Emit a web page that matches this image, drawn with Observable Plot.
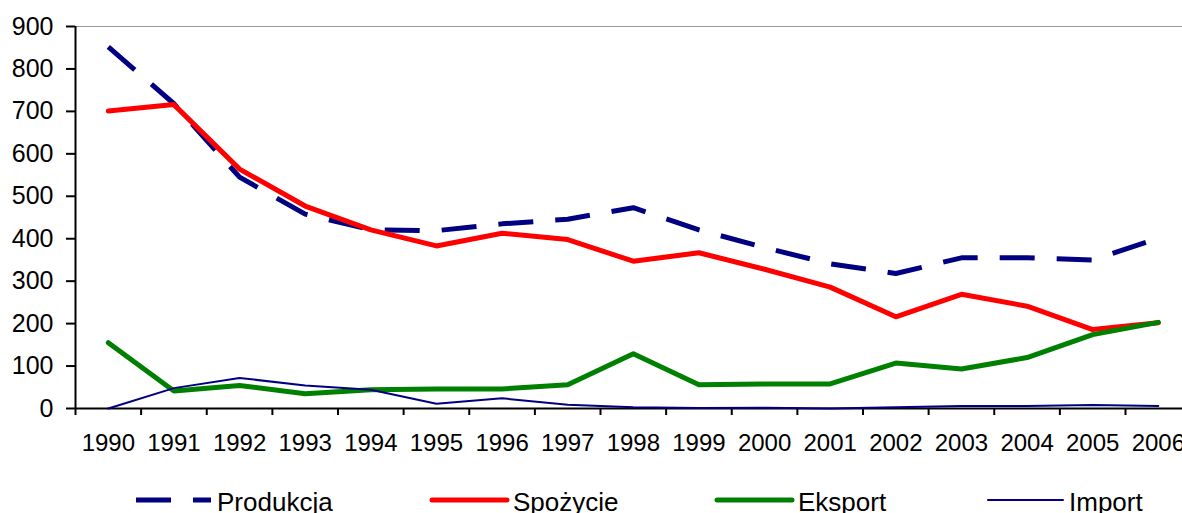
<!DOCTYPE html>
<html>
<head>
<meta charset="utf-8">
<script src="https://cdn.jsdelivr.net/npm/d3@7"></script>
<script src="https://cdn.jsdelivr.net/npm/@observablehq/plot@0.6"></script>
<style>
  html, body { margin: 0; padding: 0; background: #fff; overflow: hidden; }
  #wrap { position: relative; width: 1182px; height: 513px; font-family: "Liberation Sans", Arial, sans-serif; }
  #legend { position: absolute; left: 0; top: 480px; }
</style>
</head>
<body>
<div id="wrap"></div>
<script>
const years = [1990, 1991, 1992, 1993, 1994, 1995, 1996, 1997, 1998, 1999, 2000, 2001, 2002, 2003, 2004, 2005, 2006];
const produkcja = [852, 718, 545, 458, 421, 419, 435, 446, 473, 421, 379, 341, 318, 355, 355, 350, 401];
const spozycie  = [701, 716, 564, 477, 421, 383, 413, 398, 347, 367, 328, 286, 216, 269, 241, 186, 202];
const eksport   = [155, 41, 54, 35, 44, 46, 46, 56, 129, 56, 58, 58, 107, 93, 120, 174, 203];
const importV   = [0, 48, 72, 54, 44, 11, 24, 9, 3, 1, 2, 0, 3, 6, 6, 8, 6];
const seriesNames = ["Produkcja", "Spożycie", "Eksport", "Import"];
const yTicks = [0, 100, 200, 300, 400, 500, 600, 700, 800, 900];

const font = '"Liberation Sans", Arial, sans-serif';
const styles = [
  {stroke: "#000080", strokeWidth: 5, strokeDasharray: "35,22", strokeLinecap: "butt"},
  {stroke: "#ff0000", strokeWidth: 5, strokeLinecap: "round"},
  {stroke: "#008000", strokeWidth: 5, strokeLinecap: "round"},
  {stroke: "#000080", strokeWidth: 2, strokeLinecap: "round"}
];
const values = [produkcja, spozycie, eksport, importV];
const boundaries = d3.range(years.length + 1).map(i => years[0] - 0.5 + i);

const marks = [
  Plot.ruleY([900], {stroke: "#999", strokeWidth: 1}),
  Plot.axisY(yTicks, {tickSize: 9, tickPadding: 13, fontSize: 25, fill: "#000", tickFormat: d => String(d), strokeWidth: 2}),
  Plot.axisX(boundaries, {tickSize: 7, tickFormat: () => "", strokeWidth: 2}),
  Plot.axisX(years, {tickSize: 0, tickPadding: 25, fontSize: 24, tickFormat: d => String(d)}),
  Plot.ruleX([years[0] - 0.5], {y1: 0, y2: 900, stroke: "#000", strokeWidth: 2}),
  Plot.ruleY([0], {stroke: "#000", strokeWidth: 2}),
  ...values.map((arr, k) => Plot.line(years, {
    x: d => d,
    y: (d, i) => arr[i],
    strokeLinejoin: "round",
    ...styles[k]
  }))
];

const chart = Plot.plot({
  width: 1182,
  height: 480,
  marginTop: 26,
  marginBottom: 72,
  marginLeft: 75,
  marginRight: 0,
  style: {fontFamily: font, color: "#000", background: "#fff", overflow: "visible"},
  x: {type: "linear", domain: [years[0] - 0.5, years[years.length - 1] + 0.5], range: [75, 75 + 17 * 65.625]},
  y: {domain: [0, 900]},
  marks
});
document.getElementById("wrap").appendChild(chart);

// Legend below the chart
const legendX = [136, 432, 717, 988];
const sampleLen = 75;
const leg = d3.select("#wrap").append("svg")
  .attr("id", "legend")
  .attr("width", 1182)
  .attr("height", 40);
seriesNames.forEach((name, k) => {
  const s = styles[k];
  leg.append("line")
    .attr("x1", legendX[k]).attr("x2", legendX[k] + sampleLen)
    .attr("y1", 20).attr("y2", 20)
    .attr("stroke", s.stroke)
    .attr("stroke-width", s.strokeWidth)
    .attr("stroke-linecap", s.strokeLinecap)
    .attr("stroke-dasharray", s.strokeDasharray || null);
  leg.append("text")
    .attr("x", legendX[k] + sampleLen + 6)
    .attr("y", 31)
    .attr("font-size", 26)
    .attr("font-family", font)
    .attr("fill", "#000")
    .text(name);
});
</script>
</body>
</html>
